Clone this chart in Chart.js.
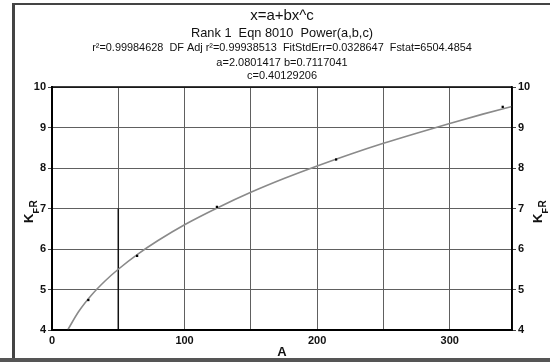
<!DOCTYPE html>
<html>
<head>
<meta charset="utf-8">
<script src="https://cdn.jsdelivr.net/npm/chart.js@4.4.1/dist/chart.umd.min.js"></script>
<style>
  html, body { margin:0; padding:0; background:#fff; }
  #wrap { position:relative; width:550px; height:362px; overflow:hidden; background:#fff; }
  #c { position:absolute; left:0; top:0; }
  .fl { position:absolute; background:#444; }
</style>
</head>
<body>
<div id="wrap">
  <canvas id="c" width="550" height="362"></canvas>
  <div class="fl" style="left:12px;top:3px;width:3px;height:355px;"></div>
  <div class="fl" style="left:12px;top:3px;width:538px;height:2px;"></div>
  <div class="fl" style="left:0px;top:358px;width:550px;height:4px;background:#555;"></div>
</div>
<script>
// ---- data ----
const titleLines = [
  "x=a+bx^c",
  "Rank 1  Eqn 8010  Power(a,b,c)",
  "r\u00B2=0.99984628  DF Adj r\u00B2=0.99938513  FitStdErr=0.0328647  Fstat=6504.4854",
  "a=2.0801417 b=0.7117041",
  "c=0.40129206"
];
const xAxisTitle = "A";
const obsA  = [27.4, 64.2, 124.4, 214.3, 340];
const obsKF = [4.74, 5.83, 7.04, 8.21, 9.51];
// fitted curve
const curveA  = [12, 20, 30, 40, 50, 65, 80, 100, 125, 150, 175, 200, 225, 250, 275, 300, 325, 347];
const curveKF = [4.01, 4.45, 4.87, 5.21, 5.50, 5.88, 6.21, 6.60, 7.02, 7.40, 7.74, 8.05, 8.34, 8.61, 8.86, 9.10, 9.33, 9.52];
// darker grid segment visible in the scan
const segA  = [50, 50];
const segKF = [7, 4];
const xMin = 0, xMax = 347, xStep = 50, xLabelEvery = 100;
const yMin = 4, yMax = 10, yStep = 1;

const FONT = "'Liberation Sans', Arial, sans-serif";

const toPts = (xs, ys) => xs.map((x, i) => ({x: x, y: ys[i]}));

function drawKFR(ctx, bx, cy) {
  ctx.save();
  ctx.translate(bx, cy);
  ctx.rotate(-Math.PI / 2);
  ctx.fillStyle = '#111';
  ctx.textBaseline = 'alphabetic';
  ctx.textAlign = 'left';
  let x = -13;
  ctx.font = "bold 13px " + FONT;
  ctx.fillText("K", x, 0);
  x += ctx.measureText("K").width;
  ctx.font = "bold 9px " + FONT;
  ctx.fillText("F", x, 5.5);
  x += ctx.measureText("F").width + 0.5;
  ctx.font = "bold 10px " + FONT;
  ctx.fillText("R", x, 4);
  ctx.restore();
}

const textPlugin = {
  id: 'textPlugin',
  afterDraw(chart) {
    const ctx = chart.ctx;
    const a = chart.chartArea;
    const cx = (a.left + a.right) / 2;
    ctx.save();
    ctx.fillStyle = '#111';
    ctx.textAlign = 'center';
    ctx.textBaseline = 'middle';
    const specs = [[15, 16], [12.8, 33], [10.9, 48], [11, 63], [11, 76]];
    titleLines.forEach((t, i) => {
      ctx.font = specs[i][0] + "px " + FONT;
      ctx.fillText(t, cx, specs[i][1]);
    });
    ctx.font = "bold 13px " + FONT;
    ctx.fillText(xAxisTitle, cx, 352);
    // frame of plot area
    ctx.strokeStyle = '#000';
    ctx.lineWidth = 1.5;
    ctx.strokeRect(a.left, a.top, a.right - a.left, a.bottom - a.top);
    ctx.restore();
    drawKFR(ctx, 33, 210);
    drawKFR(ctx, 542, 210);
  }
};

const bgPlugin = {
  id: 'bg',
  beforeDraw(chart) {
    const ctx = chart.ctx;
    ctx.save();
    ctx.fillStyle = '#fff';
    ctx.fillRect(0, 0, chart.width, chart.height);
    ctx.restore();
  }
};

const tickFont = { family: FONT, size: 11, weight: 'bold' };

new Chart(document.getElementById('c'), {
  type: 'scatter',
  data: {
    datasets: [
      { label: 'obs', data: toPts(obsA, obsKF), order: 0, showLine: false,
        pointStyle: 'rect', pointRadius: 1.6, backgroundColor: '#000', borderColor: '#000', borderWidth: 0 },
      { label: 'fit', data: toPts(curveA, curveKF), order: 1, showLine: true,
        borderColor: '#8a8a8a', borderWidth: 1.6, pointRadius: 0, cubicInterpolationMode: 'monotone', fill: false },
      { label: 'seg', data: toPts(segA, segKF), order: 2, showLine: true,
        borderColor: '#111', borderWidth: 1.5, pointRadius: 0, fill: false }
    ]
  },
  options: {
    responsive: false,
    animation: false,
    devicePixelRatio: 1,
    layout: { padding: { top: 87, left: 0, right: 0, bottom: 0 } },
    plugins: { legend: { display: false }, tooltip: { enabled: false }, title: { display: false } },
    scales: {
      x: {
        type: 'linear', position: 'bottom', min: xMin, max: xMax,
        afterFit(s) { s.height = 32; },
        ticks: { stepSize: xStep, autoSkip: false, maxRotation: 0, padding: 4, color: '#111', font: tickFont,
                 callback: v => (v % xLabelEvery === 0 ? String(v) : '') },
        grid: { color: '#606060', lineWidth: 1, tickLength: 0, drawTicks: false },
        border: { display: true, color: '#000', width: 2 }
      },
      y: {
        type: 'linear', position: 'left', min: yMin, max: yMax,
        afterFit(s) { s.width = 52; },
        ticks: { stepSize: yStep, padding: 2, color: '#111', font: tickFont },
        grid: { color: '#606060', lineWidth: 1, tickLength: 4, tickColor: '#444' },
        border: { display: true, color: '#000', width: 2 }
      },
      y2: {
        type: 'linear', position: 'right', min: yMin, max: yMax,
        afterFit(s) { s.width = 38; },
        ticks: { stepSize: yStep, padding: 2, color: '#111', font: tickFont },
        grid: { drawOnChartArea: false, tickLength: 4, tickColor: '#444' },
        border: { display: true, color: '#000', width: 1.5 }
      }
    }
  },
  plugins: [bgPlugin, textPlugin]
});
</script>
</body>
</html>
